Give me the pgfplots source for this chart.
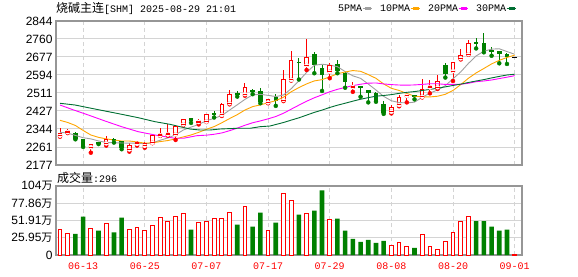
\documentclass[border=0pt]{standalone}
\usepackage{pgfplots}
\usepackage{pgfplotstable}
\pgfplotsset{compat=1.18}
\usepackage{fontspec}
\setmainfont{Liberation Sans}
\newfontfamily\cjk{Noto Sans CJK SC}
\newfontfamily\mono{Liberation Mono}
\definecolor{cgreen}{RGB}{0,128,0}
\definecolor{cred}{RGB}{255,0,0}
\definecolor{ma5}{RGB}{160,160,160}
\definecolor{ma10}{RGB}{255,165,0}
\definecolor{ma20}{RGB}{255,0,255}
\definecolor{ma30}{RGB}{0,110,50}
\definecolor{framec}{RGB}{150,150,150}
\definecolor{gridc}{RGB}{212,212,212}
\newcommand\wan{{\cjk\fontsize{11}{11}\selectfont 万}}

% up candles (close >= open): x open high low close
\pgfplotstableread{
x O H L C
0 2313 2347 2308 2325
1 2329 2344 2325 2332
4 2260 2275 2234 2273
6 2277 2313 2267 2297
9 2249 2277 2239 2269
10 2275 2290 2267 2281
11 2266 2285 2257 2278
12 2280 2315 2278 2313
13 2314 2347 2312 2318
14 2318 2365 2313 2322
15 2319 2356 2293 2354
16 2365 2392 2362 2388
18 2376 2390 2365 2379
19 2378 2411 2376 2409
21 2409 2465 2404 2455
22 2463 2524 2458 2505
24 2505 2555 2498 2535
27 2467 2484 2463 2481
29 2478 2617 2473 2571
30 2571 2705 2568 2659
32 2640 2761 2617 2676
35 2609 2648 2579 2640
38 2538 2563 2516 2541
43 2424 2455 2416 2444
44 2455 2502 2449 2489
45 2497 2512 2467 2501
47 2493 2575 2490 2529
48 2536 2571 2509 2541
49 2537 2594 2529 2563
51 2612 2655 2566 2653
52 2671 2713 2666 2683
53 2690 2756 2688 2741
}\redC

% down candles
\pgfplotstableread{
x O H L C
2 2324 2330 2296 2297
3 2293 2298 2261 2262
5 2281 2285 2274 2278
7 2297 2303 2281 2290
8 2285 2290 2250 2257
17 2393 2395 2372 2381
20 2414 2425 2397 2408
23 2510 2519 2494 2502
25 2521 2530 2505 2513
26 2516 2535 2463 2467
28 2489 2505 2451 2474
31 2653 2671 2573 2649
33 2687 2702 2602 2640
34 2625 2640 2520 2594
36 2643 2663 2602 2612
37 2602 2610 2535 2563
39 2540 2545 2493 2535
40 2520 2525 2467 2509
41 2506 2515 2470 2473
42 2458 2473 2414 2416
46 2497 2502 2481 2490
50 2640 2648 2582 2598
54 2745 2764 2717 2736
55 2741 2787 2699 2705
56 2707 2725 2683 2704
57 2702 2705 2648 2691
58 2691 2697 2645 2676
}\greenC

% volume (10k lots)
\pgfplotstableread{
x V
0 38.0
1 31.9
4 40.5
6 47.1
9 39.0
10 42.0
11 36.5
12 44.1
13 55.7
14 51.1
15 57.2
16 62.3
18 49.6
19 51.1
20 54.2
21 54.2
22 63.3
24 72.4
27 37.5
29 92.2
30 82.5
32 61.8
35 52.7
43 14.7
44 19.2
45 13.2
47 31.4
48 13.2
49 8.6
50 20.8
51 34.4
52 51.1
53 57.2
59 0.03
}\redV

\pgfplotstableread{
x V
2 31.9
3 57.7
5 36.5
7 33.9
8 56.2
17 38.0
23 45.6
25 42.5
26 63.8
28 48.6
31 60.8
33 66.8
34 97.2
36 54.7
37 36.5
38 24.3
39 19.7
40 22.8
41 18.2
42 21.3
46 10.6
54 51.1
55 51.1
56 42.5
57 36.5
58 38.0
}\greenV

\pgfplotsset{
  common/.style={
    scale only axis, width=466pt,
    xmin=-0.52, xmax=59.95,
    xtick={3,11,19,27,35,43,51,59},
    major tick length=0pt,
    xmajorgrids, ymajorgrids,
    x grid style={gridc, line width=1pt, dash pattern=on 4pt off 3pt},
    y grid style={gridc, line width=1pt},
    axis line style={framec, line width=1.2pt},
    yticklabel style={font=\fontsize{12}{12}\selectfont, anchor=east, inner sep=0pt, xshift=-3.3pt},
  },
}

\begin{document}
\begin{tikzpicture}
\useasboundingbox (0,0) rectangle (578pt,276pt);

\begin{axis}[common,
  at={(56pt,111pt)}, anchor=south west, height=144pt,
  ymin=2177, ymax=2844,
  xticklabels={,,,,,,,},
  ytick={2177,2260.375,2343.75,2427.125,2510.5,2593.875,2677.25,2760.625,2844},
  yticklabels={2177,2261,2344,2427,2511,2594,2677,2760,2844},
  legend plot pos=right,
  legend columns=4,
  legend image code/.code={\path (0pt,0pt) -- (9pt,0pt); \draw[#1, line width=2.7pt] (2.7pt,0pt) -- (8.7pt,0pt);},
  legend style={at={(0.6052,1.0868)}, anchor=west, draw=none, fill=none, inner sep=0pt,
    font=\mono\fontsize{10}{10}\selectfont, nodes={inner sep=0pt},
    /tikz/every even column/.append style={column sep=7.5pt}},
]
% wicks
\addplot[forget plot, draw=cred, color=cred, only marks, mark=none,
  error bars/.cd, y dir=plus, y explicit, error mark=none,
  error bar style={draw=cred, line width=1pt}]
  table[x=x, y=L, y error plus expr=\thisrow{H}-\thisrow{L}] {\redC};
\addplot[forget plot, draw=cgreen, color=cgreen, only marks, mark=none,
  error bars/.cd, y dir=plus, y explicit, error mark=none,
  error bar style={draw=cgreen, line width=1pt}]
  table[x=x, y=L, y error plus expr=\thisrow{H}-\thisrow{L}] {\greenC};
% hollow red bodies: red band, white inside, red caps
\addplot[forget plot, color=cred, draw=cred, only marks, mark=none,
  error bars/.cd, y dir=plus, y explicit, error mark=none,
  error bar style={draw=cred, line width=4.5pt}]
  table[x=x, y=O, y error plus expr=\thisrow{C}-\thisrow{O}] {\redC};
\addplot[forget plot, color=white, draw=white, only marks, mark=none,
  error bars/.cd, y dir=plus, y explicit, error mark=none,
  error bar style={draw=white, line width=2.5pt}]
  table[x=x, y=O, y error plus expr=\thisrow{C}-\thisrow{O}] {\redC};
\addplot[forget plot, color=cred, only marks, mark=-, mark size=2.25pt, mark options={draw=cred, line width=1pt, solid}]
  table[x=x, y=O] {\redC};
\addplot[forget plot, color=cred, only marks, mark=-, mark size=2.25pt, mark options={draw=cred, line width=1pt, solid}]
  table[x=x, y=C] {\redC};
% filled green bodies
\addplot[forget plot, color=cgreen, draw=cgreen, only marks, mark=-, mark size=2.25pt, mark options={draw=cgreen, line width=1pt, solid},
  error bars/.cd, y dir=minus, y explicit, error mark=none,
  error bar style={draw=cgreen, line width=4.5pt}]
  table[x=x, y=O, y error minus expr=\thisrow{O}-\thisrow{C}] {\greenC};
% last (flat) candle
\addplot[forget plot, black, only marks, mark=-, mark size=2.5pt, mark options={line width=1.2pt}]
  coordinates {(59,2674)};

\addplot[ma5, line width=0.9pt, mark=none] coordinates {
(0,2328.5)(1,2325)(2,2314)(3,2303.5)(4,2298)(5,2288.4)(6,2281.4)(7,2280)(8,2279)(9,2278.2)
(10,2278.8)(11,2275)(12,2279.6)(13,2291.8)(14,2302.4)(15,2317)(16,2339)(17,2352.6)(18,2364.8)(19,2382.2)
(20,2393)(21,2406.4)(22,2431.2)(23,2455.8)(24,2481)(25,2502)(26,2504.4)(27,2499.6)(28,2494)(29,2501.2)
(30,2530.4)(31,2566.8)(32,2605.8)(33,2639)(34,2643.6)(35,2639.8)(36,2632.4)(37,2609.8)(38,2590)(39,2578.4)
(40,2552)(41,2524.4)(42,2494.8)(43,2474.6)(44,2466.2)(45,2464.6)(46,2468)(47,2490.6)(48,2510)(49,2524.8)
(50,2544.4)(51,2576.6)(52,2608.2)(53,2647.6)(54,2682.2)(55,2703.6)(56,2713.8)(57,2715.4)(58,2702.4)(59,2690)};
\addlegendentry{5PMA}
\addplot[ma10, line width=0.9pt, mark=none] coordinates {
(0,2384)(1,2374)(2,2360)(3,2337)(4,2316)(5,2305)(6,2298)(7,2293)(8,2288)(9,2288.1)
(10,2283.6)(11,2278.2)(12,2279.8)(13,2285.4)(14,2290.3)(15,2297.9)(16,2307)(17,2316.1)(18,2328.3)(19,2342.3)
(20,2355)(21,2372.7)(22,2391.9)(23,2410.3)(24,2431.6)(25,2447.5)(26,2455.4)(27,2465.4)(28,2474.9)(29,2491.1)
(30,2516.2)(31,2535.6)(32,2552.7)(33,2566.5)(34,2572.4)(35,2585.1)(36,2599.6)(37,2607.8)(38,2614.5)(39,2611)
(40,2595.9)(41,2578.4)(42,2552.3)(43,2532.3)(44,2522.3)(45,2508.3)(46,2496.2)(47,2492.7)(48,2492.3)(49,2495.5)
(50,2504.5)(51,2522.3)(52,2549.4)(53,2578.8)(54,2603.5)(55,2624)(56,2645.2)(57,2661.8)(58,2675)(59,2686.1)};
\addlegendentry{10PMA}
\addplot[ma20, line width=0.9pt, mark=none] coordinates {
(0,2454.9)(1.52,2435)(3.67,2408.6)(5.84,2380.8)(8,2354.4)(10.16,2331.2)(12.33,2316)(14.92,2300.7)(16,2300.7)(17.74,2312.7)
(19,2315.2)(20,2319.3)(21,2325.5)(22,2335.9)(23,2347.9)(24,2361)(25,2372.7)(26,2381.2)(27,2390.8)(28,2401.6)(29,2416.7)
(30,2435.6)(31,2454.2)(32,2472.3)(33,2488.4)(34,2502)(35,2516.3)(36,2527.5)(37,2536.6)(38,2544.7)(39,2551.1)
(40,2556.1)(41,2557)(42,2552.5)(43,2549.4)(44,2547.4)(45,2546.7)(46,2547.9)(47,2550.3)(48,2553.4)(49,2553.3)
(50,2550.2)(51,2550.4)(52,2550.9)(53,2555.6)(54,2562.9)(55,2566.2)(56,2570.7)(57,2577.3)(58,2583.7)(59,2590.8)};
\addlegendentry{20PMA}
\addplot[ma30, line width=0.9pt, mark=none] coordinates {
(0,2462.8)(1.95,2454.9)(3.67,2442.4)(5.84,2427.1)(8,2411.8)(10.16,2396.1)(12.33,2377.6)(14.27,2365.5)(15.57,2354.4)(16.87,2343.7)
(18.17,2339.1)(19.46,2339.1)(20.76,2343.7)(22.93,2347)(24.65,2347)(25.95,2354.4)(27.25,2357.6)(29,2373.8)
(30,2384.9)(31,2395.5)(32,2408.1)(33,2420.7)(34,2431.4)(35,2443.5)(36,2454)(37,2463.1)(38,2472.6)(39,2481.5)
(40,2489)(41,2495.6)(42,2499)(43,2503)(44,2508.8)(45,2513.6)(46,2517.1)(47,2522)(48,2527.2)(49,2532.5)
(50,2538.9)(51,2545.4)(52,2551.5)(53,2559.2)(54,2566.1)(55,2572.5)(56,2580.3)(57,2587.4)(58,2593.9)(59,2597.5)};
\addlegendentry{30PMA}
\end{axis}

\begin{axis}[common,
  at={(56pt,21pt)}, anchor=south west, height=69pt,
  ymin=0, ymax=103.8,
  xticklabels={06-13,06-25,07-07,07-17,07-29,08-08,08-20,09-01},
  xticklabel style={font=\mono\fontsize{10}{10}\selectfont, text=cred, anchor=center, inner sep=0pt, yshift=-11pt},
  ytick={0,25.95,51.91,77.86,103.8},
  yticklabels={0,25.95\wan,51.91\wan,77.86\wan,104\wan},
]
\addplot[ybar, bar width=3.8pt, bar shift=0pt, draw=cred, fill=white, line width=1pt]
  table[x=x, y=V] {\redV};
\addplot[ybar, bar width=4.6pt, bar shift=0pt, draw=none, fill=cgreen]
  table[x=x, y=V] {\greenV};
\end{axis}

\node[anchor=west, inner sep=0pt] at (56pt,267.7pt)
  {{\cjk\fontsize{12}{12}\selectfont 烧碱主连}{\mono\fontsize{10}{10}\selectfont[SHM] 2025-08-29 21:01}};
\node[anchor=west, inner sep=0pt] at (57pt,98.3pt)
  {{\cjk\fontsize{12}{12}\selectfont 成交量}{\mono\fontsize{10}{10}\selectfont:296}};
\end{tikzpicture}
\end{document}
